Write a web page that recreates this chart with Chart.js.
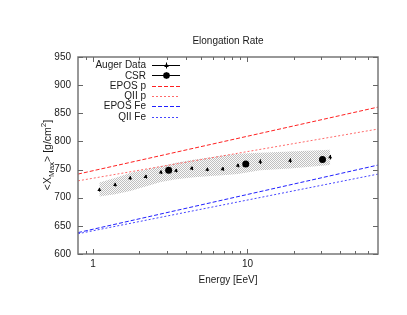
<!DOCTYPE html>
<html><head><meta charset="utf-8">
<script src="https://cdn.jsdelivr.net/npm/chart.js@4/dist/chart.umd.min.js"></script>
<style>html,body{margin:0;padding:0;background:#fff;}canvas{display:block;}</style>
</head><body>
<canvas id="c" width="407" height="315"></canvas>
<script>
// ---- data ----
const energyAuger = [1.10, 1.39, 1.74, 2.19, 2.75, 3.45, 4.35, 5.5, 6.9, 8.66, 12.1, 18.9, 34.3];
const xmaxAuger   = [714, 723, 735, 737, 745, 748, 752, 750, 751, 757, 764, 766, 772];
const errAuger    = [3, 3, 3, 3, 3, 3, 3, 3, 3, 3, 4, 4, 4];
const sysUpper    = [727, 735, 744, 750, 756, 762, 767, 771, 775, 778, 780, 782, 785];
const sysLower    = [702, 706, 712, 720, 728, 733, 736, 738, 740, 742, 749, 752, 758];
const energyCSR   = [3.09, 9.75, 30.6];
const xmaxCSR     = [749, 760, 768];
const errCSR      = [3, 3, 6];
const energyModel = [0.8, 70];
const eposP  = [742, 861];
const qiiP   = [730, 822];
const eposFe = [638, 758];
const qiiFe  = [636, 742];
const yTicks = [600, 650, 700, 750, 800, 850, 900, 950];
const xLabelTicks = [1, 10];
const xMinorTicks = [0.9, 2, 3, 4, 5, 6, 7, 8, 9, 20, 30, 40, 50, 60];

const pts = (xs, ys) => xs.map((x, i) => ({x: x, y: ys[i]}));

// hatch pattern for systematic band
const pc = document.createElement('canvas');
pc.width = 2; pc.height = 2;
const pctx = pc.getContext('2d');
pctx.fillStyle = 'rgba(140,140,140,0.55)';
pctx.fillRect(0, 0, 1, 1);
pctx.fillRect(1, 1, 1, 1);
pctx.fillStyle = 'rgba(230,230,230,0.2)';
pctx.fillRect(1, 0, 1, 1);
pctx.fillRect(0, 1, 1, 1);
const hatch = pctx.createPattern(pc, 'repeat');

const FONT = '"Liberation Sans", Arial, sans-serif';
const TXT = '#1a1a1a';

const legendItems = [
  {label: 'Auger Data', type: 'auger'},
  {label: 'CSR', type: 'csr'},
  {label: 'EPOS p', color: '#ff2020', dash: [4, 2]},
  {label: 'QII p', color: '#ff6a6a', dash: [2, 2]},
  {label: 'EPOS Fe', color: '#2020ff', dash: [4, 2]},
  {label: 'QII Fe', color: '#4646ff', dash: [2, 2]}
];

const deco = {
  id: 'deco',
  afterDatasetsDraw(chart) {
    const ctx = chart.ctx;
    const xs = chart.scales.x, ys = chart.scales.y;
    const a = chart.chartArea;
    ctx.save();
    // error bars
    ctx.strokeStyle = '#000';
    ctx.lineWidth = 1;
    const eb = (ex, ey, ee) => {
      ex.forEach((e, i) => {
        const px = Math.round(xs.getPixelForValue(e)) + 0.5;
        ctx.beginPath();
        ctx.moveTo(px, ys.getPixelForValue(ey[i] - ee[i]));
        ctx.lineTo(px, ys.getPixelForValue(ey[i] + ee[i]));
        ctx.stroke();
      });
    };
    eb(energyAuger, xmaxAuger, errAuger);
    eb(energyCSR, xmaxCSR, errCSR);

    // frame
    ctx.strokeStyle = '#777';
    ctx.lineWidth = 1.5;
    ctx.strokeRect(a.left, a.top, a.right - a.left, a.bottom - a.top);
    // ticks
    ctx.lineWidth = 1;
    ctx.strokeStyle = '#666';
    ctx.beginPath();
    yTicks.forEach(v => {
      const py = Math.round(ys.getPixelForValue(v)) + 0.5;
      ctx.moveTo(a.left, py); ctx.lineTo(a.left + 5, py);
      ctx.moveTo(a.right, py); ctx.lineTo(a.right - 5, py);
    });
    xLabelTicks.forEach(v => {
      const px = Math.round(xs.getPixelForValue(v)) + 0.5;
      ctx.moveTo(px, a.bottom); ctx.lineTo(px, a.bottom - 5);
      ctx.moveTo(px, a.top); ctx.lineTo(px, a.top + 5);
    });
    xMinorTicks.forEach(v => {
      const px = Math.round(xs.getPixelForValue(v)) + 0.5;
      ctx.moveTo(px, a.bottom); ctx.lineTo(px, a.bottom - 3);
      ctx.moveTo(px, a.top); ctx.lineTo(px, a.top + 3);
    });
    ctx.stroke();

    // titles
    ctx.fillStyle = TXT;
    ctx.font = '10px ' + FONT;
    ctx.textAlign = 'center';
    ctx.textBaseline = 'middle';
    ctx.fillText('Elongation Rate', 228, 41);
    ctx.fillText('Energy [EeV]', 228, 280);

    // y title with sub/superscripts
    ctx.save();
    ctx.translate(47, 155);
    ctx.rotate(-Math.PI / 2);
    ctx.textAlign = 'left';
    ctx.textBaseline = 'alphabetic';
    const parts = [
      {t: '<X', s: 10.5, dy: 0},
      {t: 'Max', s: 8, dy: 3},
      {t: '> [g/cm', s: 10.5, dy: 0},
      {t: '2', s: 8, dy: -5},
      {t: ']', s: 10.5, dy: 0}
    ];
    let tw = 0;
    parts.forEach(p => { ctx.font = p.s + 'px ' + FONT; p.w = ctx.measureText(p.t).width; tw += p.w; });
    let cx = -tw / 2;
    parts.forEach(p => {
      ctx.font = p.s + 'px ' + FONT;
      ctx.fillText(p.t, cx, 4 + p.dy);
      cx += p.w;
    });
    ctx.restore();

    // legend
    const rowY = [65, 75.3, 85.6, 95.9, 106.2, 116.5];
    ctx.font = '10px ' + FONT;
    ctx.textAlign = 'right';
    ctx.textBaseline = 'middle';
    legendItems.forEach((it, i) => {
      const y = rowY[i];
      ctx.fillStyle = TXT;
      ctx.fillText(it.label, 146, y + 0.5);
      const yy = Math.round(y) + 0.5;
      if (it.type) {
        ctx.beginPath();
        ctx.strokeStyle = '#000';
        ctx.setLineDash([]);
        ctx.lineWidth = 1;
        ctx.moveTo(152, yy); ctx.lineTo(180, yy);
        ctx.moveTo(166.5, yy - 3); ctx.lineTo(166.5, yy + 3);
        ctx.stroke();
        ctx.fillStyle = '#000';
        ctx.beginPath();
        if (it.type === 'csr') {
          ctx.arc(166.5, yy, 3.3, 0, Math.PI * 2);
        } else {
          ctx.moveTo(166.5, yy - 2.5); ctx.lineTo(168.8, yy + 1.5); ctx.lineTo(164.2, yy + 1.5); ctx.closePath();
        }
        ctx.fill();
      } else {
        ctx.beginPath();
        ctx.strokeStyle = it.color;
        ctx.setLineDash(it.dash);
        ctx.lineWidth = 1;
        ctx.moveTo(152, yy); ctx.lineTo(180, yy);
        ctx.stroke();
        ctx.setLineDash([]);
      }
    });
    ctx.restore();
  }
};

const modelDs = (label, ys, color, dash) => ({
  label: label, data: pts(energyModel, ys), showLine: true,
  borderColor: color, borderWidth: 1, borderDash: dash,
  pointRadius: 0, fill: false, order: 2
});

new Chart(document.getElementById('c'), {
  type: 'scatter',
  data: {
    datasets: [
      {label: 'CSR', data: pts(energyCSR, xmaxCSR), pointStyle: 'circle', pointRadius: 3.5,
       backgroundColor: '#000', borderColor: '#000', borderWidth: 0, order: 0},
      {label: 'Auger Data', data: pts(energyAuger, xmaxAuger), pointStyle: 'triangle', pointRadius: 2.3,
       backgroundColor: '#000', borderColor: '#000', borderWidth: 0, order: 1},
      modelDs('EPOS p', eposP, '#ff2020', [4, 2]),
      modelDs('QII p', qiiP, '#ff6a6a', [2, 2]),
      modelDs('EPOS Fe', eposFe, '#2020ff', [4, 2]),
      modelDs('QII Fe', qiiFe, '#4646ff', [2, 2]),
      {label: 'sys upper', data: pts(energyAuger, sysUpper), showLine: true, borderWidth: 0,
       borderColor: 'rgba(0,0,0,0)', pointRadius: 0, fill: false, order: 5},
      {label: 'sys lower', data: pts(energyAuger, sysLower), showLine: true, borderWidth: 0,
       borderColor: 'rgba(0,0,0,0)', pointRadius: 0, fill: '-1', backgroundColor: hatch, order: 5}
    ]
  },
  options: {
    responsive: false,
    devicePixelRatio: 1,
    animation: false,
    events: [],
    layout: {padding: {top: 57, right: 29, left: 0, bottom: 0}},
    plugins: {legend: {display: false}, tooltip: {enabled: false}, title: {display: false}},
    scales: {
      x: {
        type: 'logarithmic', min: 0.8, max: 70, position: 'bottom',
        grid: {display: false, drawTicks: false, tickLength: 0}, border: {display: false},
        afterBuildTicks: s => { s.ticks = xLabelTicks.map(v => ({value: v})); },
        afterFit: s => { s.height = 61; },
        ticks: {autoSkip: false, maxRotation: 0, padding: 4, color: TXT,
                font: {size: 10, family: FONT}, callback: v => String(v)}
      },
      y: {
        min: 600, max: 950,
        grid: {display: false, drawTicks: false, tickLength: 0}, border: {display: false},
        afterBuildTicks: s => { s.ticks = yTicks.map(v => ({value: v})); },
        afterFit: s => { s.width = 78; },
        ticks: {padding: 7, color: TXT, font: {size: 10, family: FONT}}
      }
    }
  },
  plugins: [deco]
});
</script>
</body></html>
